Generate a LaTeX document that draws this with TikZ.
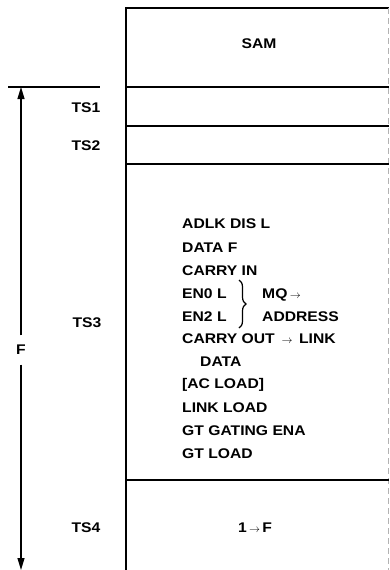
\documentclass[tikz,border=0pt]{standalone}
\usepackage{fontspec}
\setmainfont{Liberation Sans}[FakeStretch=1.12]
\usetikzlibrary{arrows.meta,decorations.pathreplacing}
\newcommand{\sarr}{{\fontsize{11}{11}\selectfont$\rightarrow$}}
\begin{document}
\begin{tikzpicture}[x=1pt,y=-1pt,
  lbl/.style={font=\fontsize{14}{16}\selectfont\bfseries, inner sep=0pt},
  item/.style={lbl, anchor=base west},
  thickline/.style={line width=2pt},
  divline/.style={line width=1.3pt},
  dim/.style={line width=1.2pt, -{Triangle[length=12pt,width=7pt]}}
]
\useasboundingbox (0,0) rectangle (389,570);
% frame
\coordinate (bl) at (126,570);
\coordinate (tl) at (126,8);
\coordinate (tr) at (389,8);
\coordinate (br) at (388,570);
\draw[thickline] (bl) -- (tl) -- (tr);
\draw[gray!60, line width=0.6pt, dash pattern=on 6pt off 4pt] (388,8) -- (br);
% dividers
\foreach \y/\n in {87/a,126/b,164/c,480/d}{
  \coordinate (d\n l) at (126,\y);
  \coordinate (d\n r) at (389,\y);
  \draw[divline] (d\n l) -- (d\n r);
}
% dimension
\coordinate (tickl) at (8,87);
\coordinate (tickr) at (100,87);
\draw[line width=1.2pt] (tickl) -- (tickr);
\node[lbl, inner sep=0pt, minimum height=29pt] (F) at (21,350) {F};
\coordinate (ftop) at (21,87);
\coordinate (fbot) at (21,570);
\draw[dim] (F.north) -- (ftop);
\draw[dim] (F.south) -- (fbot);
% labels
\node[lbl] (sam) at (259,44) {SAM};
\node[lbl] (ts1) at (86,108) {TS1};
\node[lbl] (ts2) at (86,146) {TS2};
\node[lbl] (ts3) at (87,323) {TS3};
\node[lbl] (ts4) at (86,528) {TS4};
\node[lbl] (onef) at (255,528) {1\,\sarr\,F};
% list
\node[item] (l1) at (182,228) {ADLK DIS L};
\node[item] (l2) at (182,252) {DATA F};
\node[item] (l3) at (182,275) {CARRY IN};
\node[item] (l4) at (182,298) {EN0 L};
\node[item] (l5) at (182,321) {EN2 L};
\node[item] (l6) at (182,343) {CARRY OUT\ \,\sarr\ \,LINK};
\node[item] (l7) at (200,366) {DATA};
\node[item] (l8) at (182,388) {[AC LOAD]};
\node[item] (l9) at (182,412) {LINK LOAD};
\node[item] (l10) at (182,435) {GT GATING ENA};
\node[item] (l11) at (182,458) {GT LOAD};
\node[item] (mq) at (262,298) {MQ\,\sarr};
\node[item] (addr) at (262,321) {ADDRESS};
\coordinate (bt) at (239,280);
\coordinate (bb) at (239,328);
\draw[line width=1.2pt, decorate, decoration={brace, amplitude=7pt}] (bt) -- (bb);
\end{tikzpicture}
\end{document}
